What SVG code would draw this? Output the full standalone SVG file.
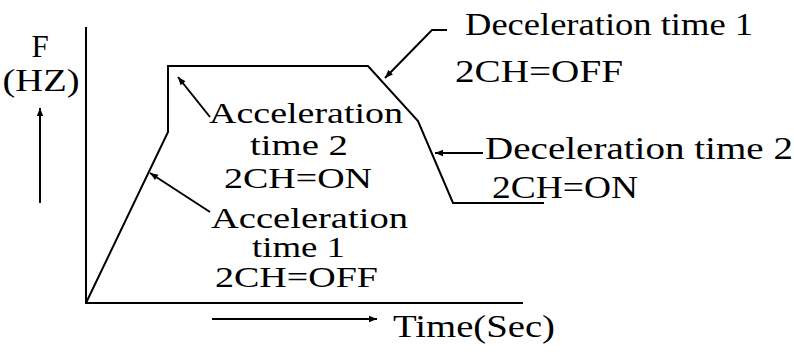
<svg xmlns="http://www.w3.org/2000/svg" width="794" height="352" viewBox="0 0 794 352">
<defs>
<marker id="ah" viewBox="0 0 10 10" refX="10" refY="5" markerWidth="10" markerHeight="8" markerUnits="userSpaceOnUse" orient="auto">
<path d="M0,1 L10,5 L0,9 Z" fill="#000"/>
</marker>
</defs>
<style>
.t{font-size:31px;fill:#000}
.s{font-size:29px}
.ln{stroke:#000;stroke-width:2;fill:none}
.ar{stroke:#000;stroke-width:2;fill:none;marker-end:url(#ah)}
</style>
<rect width="794" height="352" fill="#fff"/>
<g id="axes">
<path class="ln" d="M86,27 V303 H523"/>
</g>
<g id="curve">
<path class="ln" d="M86,303 L168,132 V66 H368 L418,121 L453,203 H544"/>
</g>
<g id="connectors">
<path class="ar" d="M40,203 V108"/>
<path class="ar" d="M212,319 H377"/>
<path class="ar" d="M210,117 L178,77"/>
<path class="ar" d="M210,212 L150,173"/>
<path class="ar" d="M447,30 H432 L385,78"/>
<path class="ar" d="M483,153 H435"/>
</g>
<g font-family="'Liberation Serif', Tinos, 'Times New Roman', 'Nimbus Roman', 'Nimbus Roman No9 L', Times, FreeSerif, 'DejaVu Serif', serif">
<g id="label-f">
<text class="t" x="40" y="57" text-anchor="middle">F</text>
<text class="t" x="41" y="91" text-anchor="middle" textLength="77" lengthAdjust="spacingAndGlyphs">(HZ)</text>
</g>
<g id="label-acc2">
<text class="t s" x="209" y="123" textLength="194" lengthAdjust="spacingAndGlyphs">Acceleration</text>
<text class="t s" x="250" y="155" textLength="98" lengthAdjust="spacingAndGlyphs">time 2</text>
<text class="t s" x="224" y="188" textLength="148" lengthAdjust="spacingAndGlyphs">2CH=ON</text>
</g>
<g id="label-acc1">
<text class="t s" x="211" y="228" textLength="197" lengthAdjust="spacingAndGlyphs">Acceleration</text>
<text class="t s" x="252" y="257" textLength="93" lengthAdjust="spacingAndGlyphs">time 1</text>
<text class="t s" x="215" y="287" textLength="163" lengthAdjust="spacingAndGlyphs">2CH=OFF</text>
</g>
<g id="label-dec1">
<text class="t" x="465" y="35" textLength="288" lengthAdjust="spacingAndGlyphs">Deceleration time 1</text>
<text class="t" x="455" y="82" textLength="168" lengthAdjust="spacingAndGlyphs">2CH=OFF</text>
</g>
<g id="label-dec2">
<text class="t" x="485" y="159" textLength="308" lengthAdjust="spacingAndGlyphs">Deceleration time 2</text>
<text class="t" x="492" y="198" textLength="146" lengthAdjust="spacingAndGlyphs">2CH=ON</text>
</g>
<g id="label-time">
<text class="t" x="393" y="337" textLength="162" lengthAdjust="spacingAndGlyphs">Time(Sec)</text>
</g>
</g>
</svg>
